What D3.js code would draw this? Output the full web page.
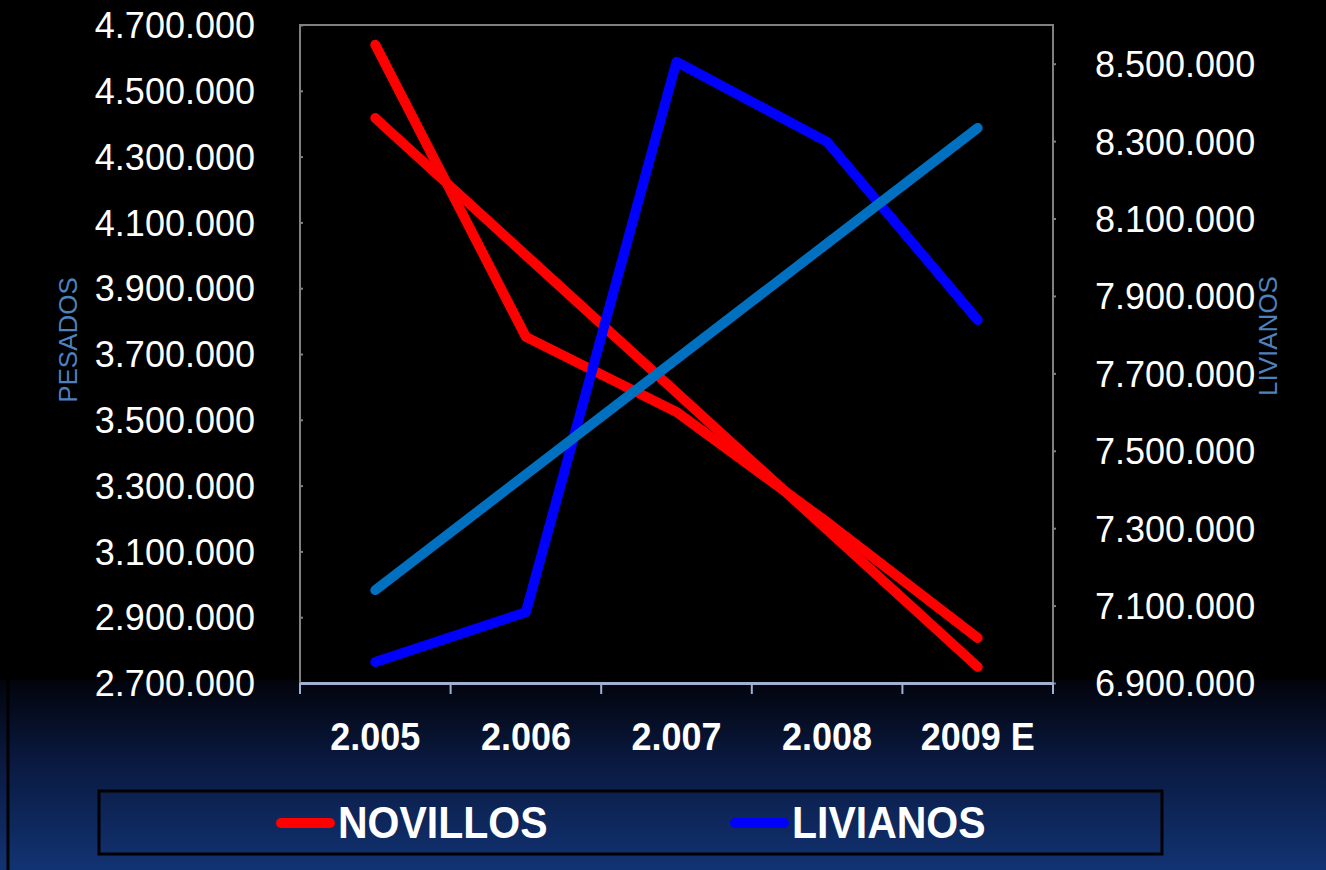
<!DOCTYPE html>
<html>
<head>
<meta charset="utf-8">
<script src="https://cdn.jsdelivr.net/npm/d3@7"></script>
<style>
html,body{margin:0;padding:0;background:#000;}
svg{display:block;}
text{font-family:"Liberation Sans",Arial,sans-serif;}
</style>
</head>
<body>
<svg id="chart" width="1326" height="870"></svg>
<script>
// ---------- DATA ----------
const categories = ["2.005", "2.006", "2.007", "2.008", "2009 E"];
const novillos = [4640000, 3752000, 3524000, 3189000, 2837000];      // left axis (PESADOS)
const livianos = [6954000, 7083000, 8505000, 8298000, 7838000];      // right axis (LIVIANOS)
const novillosTrend = [4417000, 2749000];   // linear trendline, first & last category
const livianosTrend = [7140000, 8334000];   // linear trendline, first & last category
const trendCategories = ["2.005", "2009 E"];
const leftTicks = [2700000, 2900000, 3100000, 3300000, 3500000, 3700000, 3900000, 4100000, 4300000, 4500000, 4700000];
const rightTicks = [6900000, 7100000, 7300000, 7500000, 7700000, 7900000, 8100000, 8300000, 8500000];
const leftDomain = [2700000, 4700000];
const rightDomain = [6900000, 8600000];
const leftTitle = "PESADOS";
const rightTitle = "LIVIANOS";
const legendNames = ["NOVILLOS", "LIVIANOS"];
const legendColors = ["#ff0000", "#0000ff"];

// ---------- LAYOUT ----------
const W = 1326, H = 870;
const plot = {left: 300, right: 1053, top: 25, bottom: 683};
const svg = d3.select("#chart");
const fmt = d3.formatLocale({decimal: ",", thousands: ".", grouping: [3], currency: ["", ""]}).format(",d");

// background
const defs = svg.append("defs");
const grad = defs.append("linearGradient").attr("id", "bg").attr("x1", 0).attr("y1", 0).attr("x2", 0).attr("y2", 1);
grad.append("stop").attr("offset", "0%").attr("stop-color", "#02040c");
grad.append("stop").attr("offset", "45%").attr("stop-color", "#0a1a42");
grad.append("stop").attr("offset", "100%").attr("stop-color", "#123373");
svg.append("rect").attr("x", 0).attr("y", 680).attr("width", W).attr("height", H - 680).attr("fill", "url(#bg)");
svg.append("rect").attr("x", 0).attr("y", 0).attr("width", W).attr("height", 680).attr("fill", "#000");
svg.append("line").attr("x1", 8).attr("x2", 8).attr("y1", 680).attr("y2", H).attr("stroke", "#000").attr("stroke-width", 3);

// scales
const x = d3.scaleBand().domain(categories).range([plot.left, plot.right]).padding(0);
const cx = c => x(c) + x.bandwidth() / 2;
const yL = d3.scaleLinear().domain(leftDomain).range([plot.bottom, plot.top]);
const yR = d3.scaleLinear().domain(rightDomain).range([plot.bottom, plot.top]);

// plot area border
svg.append("rect").attr("x", plot.left).attr("y", plot.top)
  .attr("width", plot.right - plot.left).attr("height", plot.bottom - plot.top)
  .attr("fill", "#000").attr("stroke", "#808080").attr("stroke-width", 2);

// left axis
const gL = svg.append("g").attr("transform", `translate(${plot.left},0)`)
  .call(d3.axisLeft(yL).tickValues(leftTicks).tickFormat(fmt).tickSize(-3).tickPadding(45));
gL.select(".domain").remove();
gL.selectAll(".tick line").attr("stroke", "#808080").attr("stroke-width", 2);
gL.selectAll(".tick text").attr("fill", "#fff").attr("font-size", 36).attr("dy", "0.35em");

// right axis
const gR = svg.append("g").attr("transform", `translate(${plot.right},0)`)
  .call(d3.axisRight(yR).tickValues(rightTicks).tickFormat(fmt).tickSize(3).tickPadding(39));
gR.select(".domain").remove();
gR.selectAll(".tick line").attr("stroke", "#808080").attr("stroke-width", 2);
gR.selectAll(".tick text").attr("fill", "#fff").attr("font-size", 36).attr("dy", "0.36em");

// bottom axis
const gB = svg.append("g").attr("transform", `translate(0,${plot.bottom})`)
  .call(d3.axisBottom(x).tickSize(0).tickPadding(0));
gB.select(".domain").attr("stroke", "#9fb0d2").attr("stroke-width", 3);
gB.selectAll(".tick text").attr("fill", "#fff").attr("font-size", 36).attr("font-weight", "bold")
  .attr("y", 0).attr("dy", 0).attr("transform", "translate(0,67) scale(1,1.08)");
const bounds = categories.map(c => x(c)).concat([x(categories[categories.length - 1]) + x.bandwidth()]);
gB.selectAll(".btick").data(bounds).enter().append("line")
  .attr("x1", d => d).attr("x2", d => d).attr("y1", 0).attr("y2", 11)
  .attr("stroke", "#9fb0d2").attr("stroke-width", 2);

// axis titles
svg.append("text").attr("transform", "translate(77,340) rotate(-90)")
  .attr("text-anchor", "middle").attr("font-size", 26).attr("fill", "#4f81bd").text(leftTitle);
svg.append("text").attr("transform", "translate(1277,336) rotate(-90)")
  .attr("text-anchor", "middle").attr("font-size", 26).attr("fill", "#4f81bd").text(rightTitle);

// lines
const lineL = d3.line().x((d, i) => cx(categories[i])).y(d => yL(d));
const lineR = d3.line().x((d, i) => cx(categories[i])).y(d => yR(d));
const trendL = d3.line().x((d, i) => cx(trendCategories[i])).y(d => yL(d));
const trendR = d3.line().x((d, i) => cx(trendCategories[i])).y(d => yR(d));
const style = (p, color) => p.attr("fill", "none").attr("stroke", color).attr("stroke-width", 10)
  .attr("stroke-linecap", "round").attr("stroke-linejoin", "round");

svg.append("path").datum(novillos).attr("d", lineL).call(style, "#ff0000");
svg.append("path").datum(novillosTrend).attr("d", trendL).call(style, "#ff0000");
svg.append("path").datum(livianos).attr("d", lineR).call(style, "#0000ff");
svg.append("path").datum(livianosTrend).attr("d", trendR).call(style, "#0070c0");

// legend
svg.append("rect").attr("x", 99).attr("y", 791).attr("width", 1063).attr("height", 63)
  .attr("fill", "none").attr("stroke", "#000").attr("stroke-width", 3);
const legX = [281, 735];
const lg = svg.selectAll(".leg").data(legendNames).enter().append("g")
  .attr("transform", (d, i) => `translate(${legX[i]},823)`);
lg.append("line").attr("x1", 0).attr("x2", 49).attr("y1", 0).attr("y2", 0)
  .attr("stroke", (d, i) => legendColors[i]).attr("stroke-width", 10).attr("stroke-linecap", "round");
lg.append("text").attr("transform", "translate(57,15) scale(1,1.09)")
  .attr("font-size", 41).attr("font-weight", "bold").attr("fill", "#fff").text(d => d);
</script>
</body>
</html>
